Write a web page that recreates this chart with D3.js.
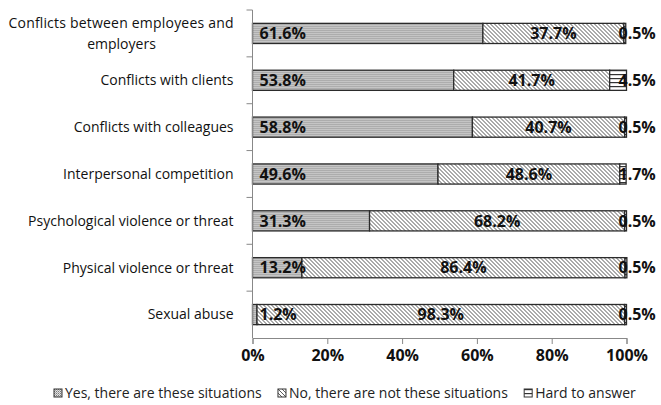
<!DOCTYPE html>
<html>
<head>
<meta charset="utf-8">
<script src="https://cdn.jsdelivr.net/npm/d3@7"></script>
<style>
  body { margin: 0; background: #fff; }
</style>
</head>
<body>
<svg></svg>
<script>
// chart data
const categories = [
  "Conflicts between employees and employers",
  "Conflicts with clients",
  "Conflicts with colleagues",
  "Interpersonal competition",
  "Psychological violence or threat",
  "Physical violence or threat",
  "Sexual abuse",
];
const yesValues = [61.6, 53.8, 58.8, 49.6, 31.3, 13.2, 1.2];
const noValues = [37.7, 41.7, 40.7, 48.6, 68.2, 86.4, 98.3];
const hardValues = [0.5, 4.5, 0.5, 1.7, 0.5, 0.5, 0.5];
const seriesNames = [
  "Yes, there are these situations",
  "No, there are not these situations",
  "Hard to answer",
];
const xTicks = [0, 20, 40, 60, 80, 100];

// sizes
const W = 661;
const H = 405;
const margin = { top: 10, right: 34.5, bottom: 67, left: 252.5 };
const width = W - margin.left - margin.right;
const height = H - margin.top - margin.bottom;

const svg = d3.select("svg").attr("width", W).attr("height", H);

// fill patterns
const defs = svg.append("defs");

const pDots = defs
  .append("pattern")
  .attr("id", "p-yes")
  .attr("patternUnits", "userSpaceOnUse")
  .attr("width", 2)
  .attr("height", 2);
pDots.append("rect").attr("width", 2).attr("height", 2).attr("fill", "#e2e2e2");
pDots.append("rect").attr("width", 1).attr("height", 1).attr("fill", "#777");
pDots.append("rect").attr("x", 1).attr("y", 1).attr("width", 1).attr("height", 1).attr("fill", "#a8a8a8");

const pDiag = defs
  .append("pattern")
  .attr("id", "p-no")
  .attr("patternUnits", "userSpaceOnUse")
  .attr("width", 4)
  .attr("height", 4);
pDiag.append("rect").attr("width", 4).attr("height", 4).attr("fill", "#fff");
pDiag
  .append("path")
  .attr("d", "M-1,-1L5,5M-1,3L1,5M3,-1L5,1")
  .attr("stroke", "#555")
  .attr("stroke-width", 1);

const pHor = defs
  .append("pattern")
  .attr("id", "p-hard")
  .attr("patternUnits", "userSpaceOnUse")
  .attr("width", 4)
  .attr("height", 4);
pHor.append("rect").attr("width", 4).attr("height", 4).attr("fill", "#fff");
pHor
  .append("rect")
  .attr("y", 0)
  .attr("width", 4)
  .attr("height", 1.2)
  .attr("fill", "#333");

const fills = ["url(#p-yes)", "url(#p-no)", "url(#p-hard)"];

// scales
const x = d3.scaleLinear().domain([0, 100]).range([0, width]);
const y = d3
  .scaleBand()
  .domain(categories)
  .range([0, height])
  .paddingInner(0.57)
  .paddingOuter(0.285);

const g = svg
  .append("g")
  .attr("transform", `translate(${margin.left},${margin.top})`);

// stacked rows
const rows = categories.map((c, i) => {
  const vals = [yesValues[i], noValues[i], hardValues[i]];
  let acc = 0;
  return vals.map((v, k) => {
    const seg = { cat: c, k: k, v: v, x0: acc, x1: acc + v };
    acc += v;
    return seg;
  });
});

const rowG = g
  .selectAll(".row")
  .data(rows)
  .enter()
  .append("g")
  .attr("class", "row");

rowG
  .selectAll("rect")
  .data((d) => d)
  .enter()
  .append("rect")
  .attr("x", (d) => x(d.x0))
  .attr("y", (d) => y(d.cat))
  .attr("width", (d) => x(d.x1) - x(d.x0))
  .attr("height", y.bandwidth())
  .attr("fill", (d) => fills[d.k])
  .attr("stroke", "#2b2b2b")
  .attr("stroke-width", 1.3);

// value labels
const valueFont = "'Open Sans', 'DejaVu Sans', sans-serif";
rowG
  .selectAll("text")
  .data((d) => d)
  .enter()
  .append("text")
  .attr("x", (d) => {
    if (d.k === 0) return x(0) + 7;
    if (d.k === 1) return (x(d.x0) + x(d.x1)) / 2;
    return x(100) - 8;
  })
  .attr("y", (d) => y(d.cat) + y.bandwidth() / 2)
  .attr("dy", "0.36em")
  .attr("text-anchor", (d) => (d.k === 1 ? "middle" : "start"))
  .style("font-family", valueFont)
  .style("font-weight", "bold")
  .style("font-size", "16px")
  .attr("fill", "#111")
  .text((d) => d.v.toFixed(1) + "%");

// x axis
const xAxis = g
  .append("g")
  .attr("transform", `translate(0,${height})`)
  .call(
    d3
      .axisBottom(x)
      .tickValues(xTicks)
      .tickSize(6)
      .tickPadding(6)
      .tickFormat((d) => d + "%")
  );
xAxis.select(".domain").attr("stroke", "#888");
xAxis.selectAll(".tick line").attr("stroke", "#888");
xAxis
  .selectAll(".tick text")
  .style("font-family", valueFont)
  .style("font-weight", "bold")
  .style("font-size", "16px")
  .attr("fill", "#111");

// y axis line and ticks between categories
const yAxis = g.append("g");
yAxis
  .append("line")
  .attr("x1", 0)
  .attr("x2", 0)
  .attr("y1", 0)
  .attr("y2", height)
  .attr("stroke", "#888");
const step = y.step();
yAxis
  .selectAll(".ytick")
  .data(d3.range(categories.length))
  .enter()
  .append("line")
  .attr("x1", -6)
  .attr("x2", 0)
  .attr("y1", (d) => d * step)
  .attr("y2", (d) => d * step)
  .attr("stroke", "#888");

// category labels
const catFont = "'Open Sans', 'Noto Sans', sans-serif";
categories.forEach((c, i) => {
  const cy = y(c) + y.bandwidth() / 2;
  if (i === 0) {
    g.append("text")
      .attr("x", -19)
      .attr("y", cy - 10)
      .attr("dy", "0.35em")
      .attr("text-anchor", "end")
      .attr("textLength", 225)
      .attr("lengthAdjust", "spacing")
      .style("font-family", catFont)
      .style("font-size", "14px")
      .attr("fill", "#111")
      .text("Conflicts between employees and");
    g.append("text")
      .attr("x", -131)
      .attr("y", cy + 11)
      .attr("dy", "0.35em")
      .attr("text-anchor", "middle")
      .style("font-family", catFont)
      .style("font-size", "14px")
      .attr("fill", "#111")
      .text("employers");
  } else {
    g.append("text")
      .attr("x", -19)
      .attr("y", cy)
      .attr("dy", "0.35em")
      .attr("text-anchor", "end")
      .style("font-family", catFont)
      .style("font-size", "14px")
      .attr("fill", "#111")
      .text(c);
  }
});

// legend
const legend = svg.append("g").attr("transform", `translate(0, 393)`);
const items = legend
  .selectAll(".leg")
  .data(seriesNames)
  .enter()
  .append("g")
  .attr("class", "leg");
items
  .append("rect")
  .attr("width", 8)
  .attr("height", 8)
  .attr("y", -4)
  .attr("fill", (d, i) => fills[i])
  .attr("stroke", "#333")
  .attr("stroke-width", 1);
items
  .append("text")
  .attr("x", 11)
  .attr("dy", "0.35em")
  .style("font-family", catFont)
  .style("font-size", "14px")
  .attr("fill", "#222")
  .text((d) => d);

// place legend items side by side, centered
let widths = [];
items.each(function () {
  widths.push(this.getBBox().width);
});
const gap = 16;
const total = d3.sum(widths) + gap * (widths.length - 1);
let cur = 345 - total / 2;
items.attr("transform", (d, i) => {
  const t = `translate(${cur},0)`;
  cur += widths[i] + gap;
  return t;
});
</script>
</body>
</html>
